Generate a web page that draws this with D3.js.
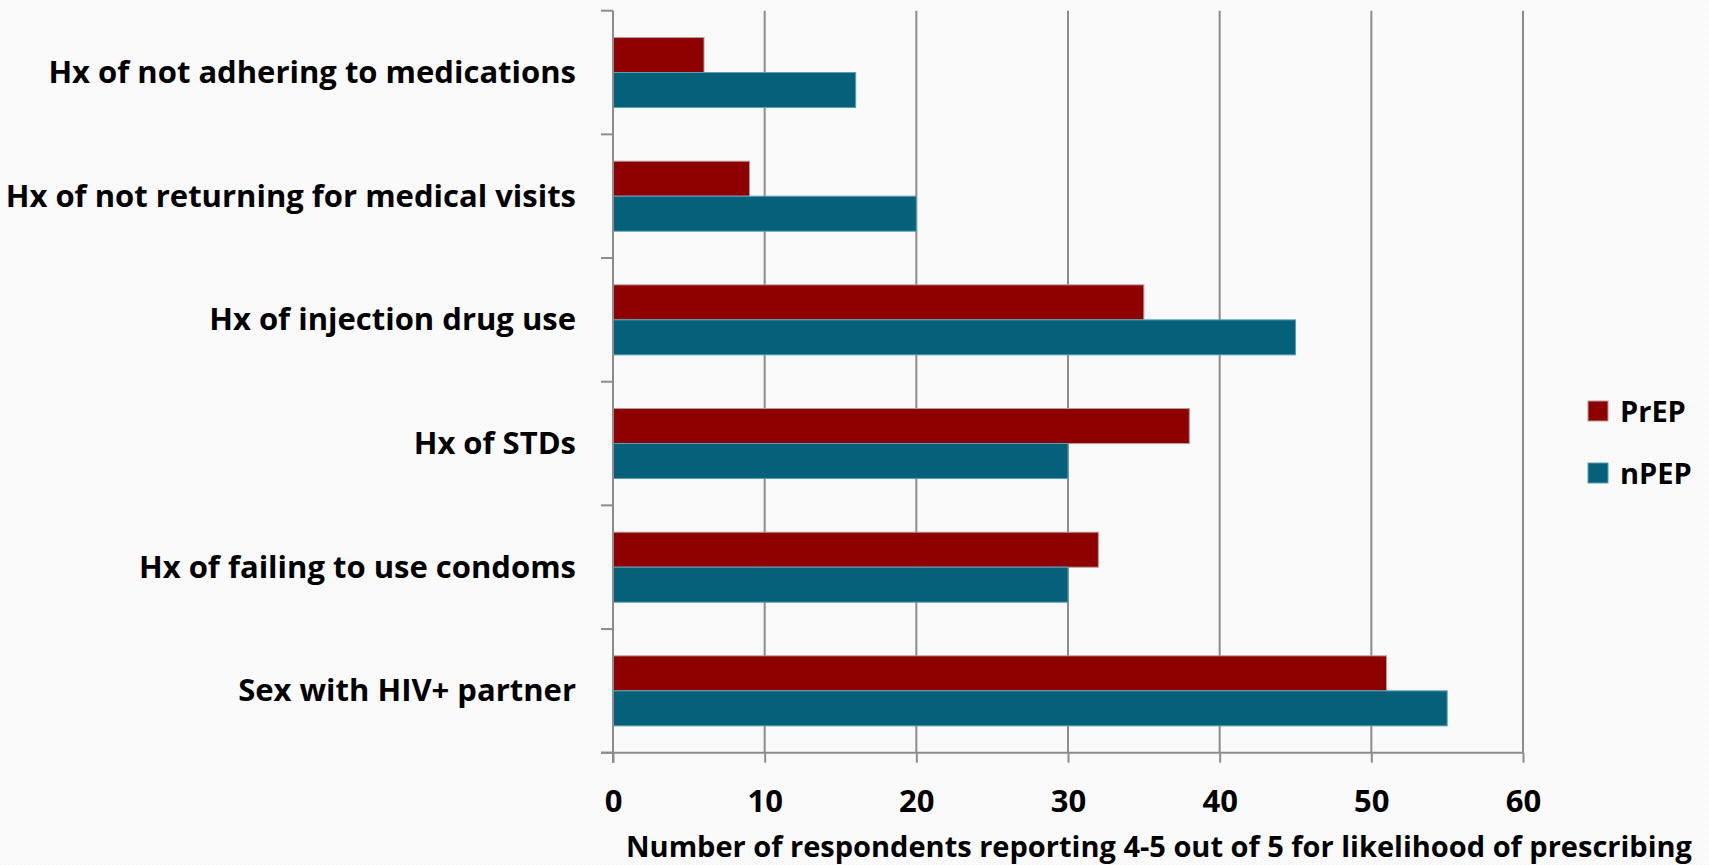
<!DOCTYPE html>
<html>
<head>
<meta charset="utf-8">
<title>PrEP / nPEP prescribing likelihood</title>
<script src="https://cdn.jsdelivr.net/npm/d3@7"></script>
<style>
  html, body { margin: 0; padding: 0; background: #fafafa; }
  svg { display: block; }
  text { font-family: "Open Sans", Lato, sans-serif; font-weight: 700; fill: #000; }
</style>
</head>
<body>
<svg width="1709" height="865"></svg>
<script>

// data, top to bottom
var categories = [
  "Hx of not adhering to medications",
  "Hx of not returning for medical visits",
  "Hx of injection drug use",
  "Hx of STDs",
  "Hx of failing to use condoms",
  "Sex with HIV+ partner"
];
var seriesNames = ["PrEP", "nPEP"];
var prepValues = [6, 9, 35, 38, 32, 51];
var npepValues = [16, 20, 45, 30, 30, 55];
var xTicks = [0, 10, 20, 30, 40, 50, 60];
var xTitle = "Number of respondents reporting 4-5 out of 5 for likelihood of prescribing";

var colors = { PrEP: "#8e0000", nPEP: "#05617a" };
var strokes = { PrEP: "#b89a9a", nPEP: "#5a9fb3" };

var svg = d3.select("svg");

// faint textured background
var defs = svg.append("defs");
var pat = defs.append("pattern")
    .attr("id", "bg").attr("width", 4).attr("height", 4)
    .attr("patternUnits", "userSpaceOnUse");
pat.append("rect").attr("width", 4).attr("height", 4).attr("fill", "#fbfbfb");
pat.append("rect").attr("x", 0).attr("y", 0).attr("width", 1).attr("height", 1).attr("fill", "#f2f2f2");
pat.append("rect").attr("x", 2).attr("y", 2).attr("width", 1).attr("height", 1).attr("fill", "#f2f2f2");
svg.append("rect").attr("width", 1709).attr("height", 865).attr("fill", "url(#bg)");

var x = d3.scaleLinear().domain([0, 60]).range([613, 1523]);
var y = d3.scaleBand().domain(categories).range([10.7, 752.7]);
var groupH = 70;
var inner = d3.scaleBand().domain(seriesNames).range([0, groupH]);

var rows = categories.map(function(c, i) {
  return { cat: c, values: [
    { key: "PrEP", value: prepValues[i] },
    { key: "nPEP", value: npepValues[i] }
  ]};
});

var axisColor = "#8c8c8c";

// vertical gridlines (behind bars)
svg.append("g").selectAll("line")
  .data(xTicks.slice(1))
  .enter().append("line")
    .attr("x1", function(d) { return x(d); })
    .attr("x2", function(d) { return x(d); })
    .attr("y1", y.range()[0])
    .attr("y2", y.range()[1])
    .attr("stroke", axisColor)
    .attr("stroke-width", 2);

// bars
var groups = svg.append("g").selectAll("g")
  .data(rows)
  .enter().append("g")
    .attr("transform", function(d) {
      return "translate(0," + (y(d.cat) + (y.bandwidth() - groupH) / 2) + ")";
    });

groups.selectAll("rect")
  .data(function(d) { return d.values; })
  .enter().append("rect")
    .attr("x", x(0))
    .attr("y", function(d) { return inner(d.key); })
    .attr("width", function(d) { return x(d.value) - x(0); })
    .attr("height", inner.bandwidth())
    .attr("fill", function(d) { return colors[d.key]; })
    .attr("stroke", function(d) { return strokes[d.key]; })
    .attr("stroke-width", 1);

// y axis: line plus outward ticks at band boundaries
var yEdges = categories.map(function(c) { return y(c); }).concat([y.range()[1]]);
var yAxis = svg.append("g");
yAxis.append("line")
    .attr("x1", x(0)).attr("x2", x(0))
    .attr("y1", y.range()[0]).attr("y2", y.range()[1] + 10)
    .attr("stroke", axisColor).attr("stroke-width", 2);
yAxis.selectAll(".yt")
  .data(yEdges)
  .enter().append("line")
    .attr("x1", x(0) - 12).attr("x2", x(0))
    .attr("y1", function(d) { return d; })
    .attr("y2", function(d) { return d; })
    .attr("stroke", axisColor).attr("stroke-width", 2);

yAxis.selectAll("text")
  .data(categories)
  .enter().append("text")
    .attr("x", 576)
    .attr("y", function(d) { return y(d) + y.bandwidth() / 2 + 10.5; })
    .attr("text-anchor", "end")
    .attr("font-size", 31)
    .text(function(d) { return d; });

// x axis
var xAxisG = svg.append("g")
    .attr("transform", "translate(0," + y.range()[1] + ")")
    .call(d3.axisBottom(x).tickValues(xTicks).tickSize(10).tickSizeOuter(0).tickPadding(27));
xAxisG.select(".domain").remove();
xAxisG.selectAll(".tick line").attr("stroke", axisColor).attr("stroke-width", 2);
xAxisG.selectAll(".tick text")
    .attr("font-size", 31)
    .attr("font-family", "'Open Sans', sans-serif")
    .attr("fill", "#000");
xAxisG.append("line")
    .attr("x1", x(0) - 12).attr("x2", x(60))
    .attr("y1", 0).attr("y2", 0)
    .attr("stroke", axisColor).attr("stroke-width", 2);

svg.append("text")
    .attr("x", 1159)
    .attr("y", 857)
    .attr("text-anchor", "middle")
    .attr("font-size", 29)
    .text(xTitle);

// legend
var legend = svg.append("g").selectAll("g")
  .data(seriesNames)
  .enter().append("g")
    .attr("transform", function(d, i) { return "translate(1588," + (401 + i * 62) + ")"; });
legend.append("rect")
    .attr("width", 20).attr("height", 20)
    .attr("fill", function(d) { return colors[d]; })
    .attr("stroke", function(d) { return strokes[d]; })
    .attr("stroke-width", 1);
legend.append("text")
    .attr("x", 32).attr("y", 21)
    .attr("font-size", 29)
    .text(function(d) { return d; });

</script>
</body>
</html>
